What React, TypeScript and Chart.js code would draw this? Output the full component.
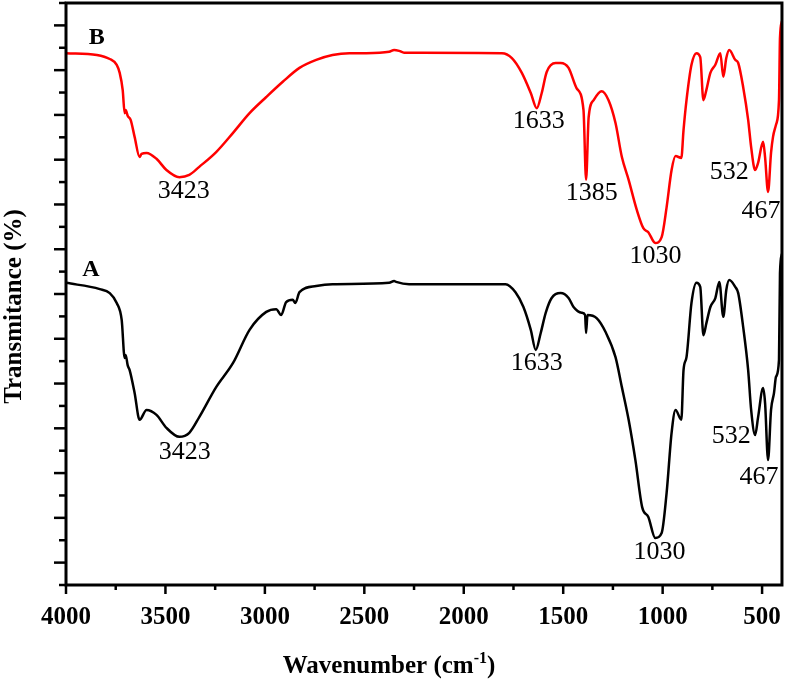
import React, { useEffect, useRef } from 'react';
import { Chart, registerables } from 'chart.js';

Chart.register(...registerables);

// Curve B (red)
const redWavenumber = [4000, 3845, 3780, 3745, 3730, 3715, 3705, 3700, 3690, 3675, 3655, 3630, 3620, 3595, 3545, 3495, 3430, 3380, 3330, 3245, 3160, 3077, 2993, 2910, 2826, 2742, 2660, 2575, 2490, 2375, 2350, 2325, 2300, 2210, 1808, 1758, 1708, 1663, 1633, 1608, 1583, 1538, 1513, 1473, 1433, 1398, 1385, 1372, 1347, 1307, 1272, 1237, 1205, 1171, 1130, 1097, 1072, 1037, 1005, 980, 955, 935, 906, 895, 880, 855, 830, 811, 795, 780, 760, 735, 710, 695, 680, 665, 635, 620, 595, 570, 555, 535, 520, 495, 485, 470, 455, 445, 430, 415, 410, 400];
const redTransmittance = [118.8, 118.4, 117.5, 116.2, 114.4, 110.6, 105.4, 106.1, 104.8, 103.9, 100.1, 95.6, 96.3, 96.5, 95.2, 92.7, 91.1, 91.6, 93.4, 96.7, 101.0, 105.4, 109.0, 112.4, 115.5, 117.3, 118.4, 118.8, 118.8, 119.1, 119.5, 119.3, 118.9, 118.9, 118.8, 117.7, 114.4, 109.9, 106.5, 109.9, 114.6, 116.6, 116.6, 115.5, 111.0, 106.1, 90.5, 104.5, 108.3, 110.3, 108.3, 103.2, 95.6, 90.5, 83.8, 79.7, 78.8, 76.4, 77.7, 84.4, 92.7, 95.8, 95.4, 101.6, 108.3, 116.2, 118.8, 117.9, 108.3, 110.6, 114.4, 116.2, 118.8, 113.5, 117.7, 119.5, 117.3, 116.6, 111.2, 103.9, 97.8, 92.7, 94.3, 99.0, 95.6, 87.8, 96.5, 100.1, 102.8, 108.3, 122.2, 126];

// Curve A (black)
const blackWavenumber = [4000, 3830, 3780, 3745, 3720, 3705, 3700, 3690, 3680, 3655, 3630, 3595, 3545, 3495, 3430, 3380, 3330, 3245, 3160, 3077, 2993, 2943, 2918, 2893, 2860, 2847, 2826, 2742, 2660, 2375, 2350, 2340, 2275, 1790, 1740, 1700, 1663, 1638, 1613, 1588, 1558, 1513, 1473, 1448, 1407, 1390, 1385, 1378, 1332, 1287, 1237, 1205, 1171, 1137, 1103, 1072, 1037, 1005, 980, 955, 935, 906, 895, 880, 855, 830, 811, 795, 780, 760, 735, 715, 695, 680, 665, 635, 620, 595, 570, 555, 535, 520, 495, 485, 470, 455, 440, 430, 415, 410, 400];
const blackTransmittance = [67.5, 66.1, 65.2, 63.0, 59.2, 50.7, 51.4, 49.1, 48.0, 42.9, 36.9, 39.1, 38.0, 35.1, 33.1, 34.0, 37.5, 44.2, 49.6, 57.0, 61.0, 61.6, 60.3, 63.2, 63.7, 63.0, 65.4, 66.8, 67.2, 67.5, 67.9, 67.7, 67.2, 67.2, 65.4, 62.1, 57.0, 52.5, 56.3, 60.8, 64.1, 65.2, 64.1, 62.1, 60.8, 60.3, 56.3, 60.3, 59.6, 56.5, 50.9, 44.2, 36.9, 27.9, 17.4, 15.2, 10.5, 11.6, 20.6, 34.0, 39.1, 36.9, 48.0, 50.9, 63.0, 67.5, 66.6, 55.8, 58.5, 62.1, 64.1, 67.7, 59.9, 65.9, 68.1, 66.6, 65.2, 57.6, 48.0, 39.1, 33.5, 37.5, 44.0, 40.7, 27.9, 39.1, 42.9, 46.5, 50.3, 69.7, 74];

// Axis ticks
const xTickValues = [4000, 3500, 3000, 2500, 2000, 1500, 1000, 500];

// Peak annotations
const redPeakLabels = ['3423', '1633', '1385', '1030', '532', '467'];
const redPeakX = [3408, 1623, 1357, 1036, 665, 505];
const redPeakY = [88.0, 103.5, 87.6, 73.4, 92.2, 83.5];
const blackPeakLabels = ['3423', '1633', '1030', '532', '467'];
const blackPeakX = [3403, 1633, 1016, 655, 515];
const blackPeakY = [29.7, 49.6, 7.3, 33.3, 24.0];
const seriesNames = ['B', 'A'];
const seriesNameX = [3845, 3875];
const seriesNameY = [122.3, 70.5];

const SERIF = '"Liberation Serif", "Times New Roman", serif';

const decorPlugin = {
  id: 'decor',
  afterDraw(chart: any) {
    const ctx = chart.ctx as CanvasRenderingContext2D;
    const { left, top, right, bottom } = chart.chartArea;
    const xs = chart.scales.x;
    const ys = chart.scales.y;
    ctx.save();
    ctx.strokeStyle = '#000';
    ctx.lineCap = 'butt';
    ctx.lineWidth = 3;
    ctx.strokeRect(left, top, right - left, bottom - top);
    ctx.lineWidth = 2.5;
    const majors = xs.ticks.map((t: any) => t.value);
    const line = (x1: number, y1: number, x2: number, y2: number) => {
      ctx.beginPath();
      ctx.moveTo(x1, y1);
      ctx.lineTo(x2, y2);
      ctx.stroke();
    };
    majors.forEach((v: number) => {
      const px = xs.getPixelForValue(v);
      line(px, bottom, px, bottom + 9);
    });
    for (let i = 0; i < majors.length - 1; i++) {
      const mv = (majors[i] + majors[i + 1]) / 2;
      const px = xs.getPixelForValue(mv);
      line(px, bottom, px, bottom + 5);
    }
    ys.ticks.forEach((t: any) => {
      const py = ys.getPixelForValue(t.value);
      const len = Math.round(t.value) % 10 === 5 ? 12 : 7;
      line(left - len, py, left, py);
    });
    ctx.fillStyle = '#000';
    ctx.textAlign = 'center';
    ctx.textBaseline = 'middle';
    ctx.font = `26px ${SERIF}`;
    redPeakLabels.forEach((s, i) => {
      ctx.fillText(s, xs.getPixelForValue(redPeakX[i]), ys.getPixelForValue(redPeakY[i]));
    });
    blackPeakLabels.forEach((s, i) => {
      ctx.fillText(s, xs.getPixelForValue(blackPeakX[i]), ys.getPixelForValue(blackPeakY[i]));
    });
    ctx.font = `bold 24px ${SERIF}`;
    seriesNames.forEach((s, i) => {
      ctx.fillText(s, xs.getPixelForValue(seriesNameX[i]), ys.getPixelForValue(seriesNameY[i]));
    });
    const mainText = 'Wavenumber (cm';
    const supText = '-1';
    const closeText = ')';
    const mainFont = `bold 25px ${SERIF}`;
    const supFont = `bold 16px ${SERIF}`;
    ctx.font = mainFont;
    const w1 = ctx.measureText(mainText).width;
    const w3 = ctx.measureText(closeText).width;
    ctx.font = supFont;
    const w2 = ctx.measureText(supText).width;
    const total = w1 + w2 + w3;
    const cx = chart.width / 2 - 6;
    const baseY = bottom + 88;
    let x0 = cx - total / 2;
    ctx.textAlign = 'left';
    ctx.textBaseline = 'alphabetic';
    ctx.font = mainFont;
    ctx.fillText(mainText, x0, baseY);
    x0 += w1;
    ctx.font = supFont;
    ctx.fillText(supText, x0, baseY - 10);
    x0 += w2;
    ctx.font = mainFont;
    ctx.fillText(closeText, x0, baseY);
    ctx.restore();
  },
};

export default function App() {
  const canvasRef = useRef<HTMLCanvasElement | null>(null);

  useEffect(() => {
    document.body.style.margin = '0';
    const canvas = canvasRef.current;
    if (!canvas) return;
    const chart = new Chart(canvas, {
      type: 'line',
      data: {
        datasets: [
          {
            label: 'A',
            data: blackWavenumber.map((x, i) => ({ x, y: blackTransmittance[i] })),
            borderColor: '#000000',
            borderWidth: 2.5,
            pointRadius: 0,
            cubicInterpolationMode: 'monotone',
            fill: false,
          },
          {
            label: 'B',
            data: redWavenumber.map((x, i) => ({ x, y: redTransmittance[i] })),
            borderColor: '#ff0000',
            borderWidth: 2.5,
            pointRadius: 0,
            cubicInterpolationMode: 'monotone',
            fill: false,
          },
        ],
      },
      options: {
        animation: false,
        responsive: false,
        maintainAspectRatio: false,
        layout: { padding: { top: 3, right: 6, left: 0, bottom: 0 } },
        plugins: {
          legend: { display: false },
          tooltip: { enabled: false },
        },
        scales: {
          x: {
            type: 'linear',
            min: 400,
            max: 4000,
            reverse: true,
            border: { display: false },
            grid: { display: false, drawTicks: true, tickLength: 9 },
            afterBuildTicks: (scale: any) => {
              scale.ticks = xTickValues.map((v) => ({ value: v }));
            },
            ticks: {
              autoSkip: false,
              maxRotation: 0,
              padding: 9,
              color: '#000',
              font: { family: SERIF, size: 25, weight: 'bold' },
              callback: (v: any) => String(v),
            },
            afterFit: (scale: any) => {
              scale.height = 98;
            },
          },
          y: {
            type: 'linear',
            min: 0,
            max: 130,
            border: { display: false },
            grid: { display: false },
            ticks: { display: false, stepSize: 5 },
            title: {
              display: true,
              text: 'Transmitance (%)    ',
              color: '#000',
              padding: { top: 0, bottom: 0 },
              font: { family: SERIF, size: 25, weight: 'bold' },
            },
            afterFit: (scale: any) => {
              scale.width = 66;
            },
          },
        },
      },
      plugins: [decorPlugin],
    });
    return () => chart.destroy();
  }, []);

  return (
    <div style={{ width: 790, height: 683 }}>
      <canvas ref={canvasRef} width={790} height={683} style={{ display: 'block' }} />
    </div>
  );
}
